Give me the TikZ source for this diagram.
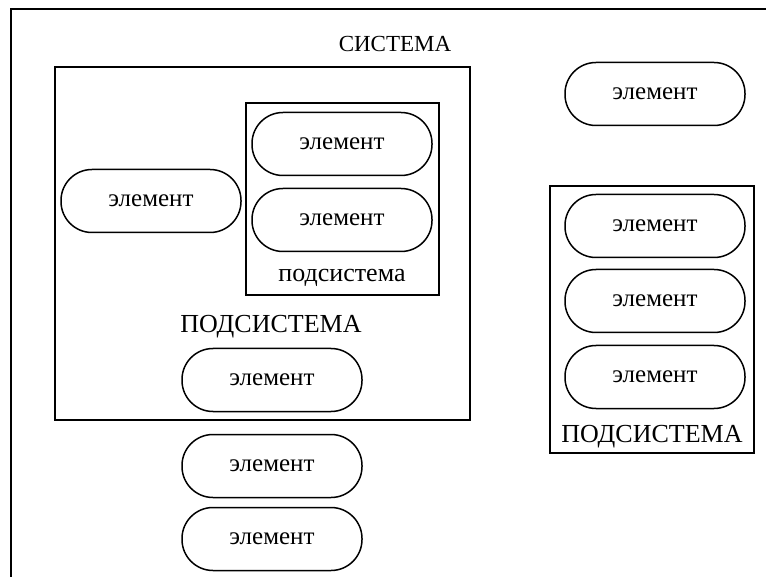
\documentclass[tikz,border=0pt]{standalone}
\usepackage{fontspec}
\setmainfont{Liberation Serif}
\usepackage{tikz}
\usetikzlibrary{positioning}

\begin{document}
\begin{tikzpicture}[x=0.5pt,y=-0.5pt,
  elem/.style={draw,line width=0.75pt,rounded corners=15.5pt,minimum width=90pt,minimum height=31.5pt,inner sep=0pt,font=\fontsize{12.5}{14}\selectfont},
  sysbox/.style={draw,line width=1pt,inner sep=0pt},
  caps/.style={font=\fontsize{13}{15}\selectfont,inner sep=0pt}]
\useasboundingbox (0,0) rectangle (766,577);
% outer frame
\draw[line width=1pt] (11,577) -- (11,9.5) -- (766,9.5);
\node[font=\fontsize{11.5}{13}\selectfont,inner sep=0pt] (sys) at (395,44) {СИСТЕМА};
% big subsystem
\node[sysbox,minimum width=207.5pt,minimum height=176.5pt] (S1) at (262.5,243.5) {};
\node[sysbox,minimum width=96.5pt,minimum height=96pt] (S2) at (342.5,199) {};
\node[elem] (e1) at (342,144) {элемент};
\node[elem] (e2) at (342,220) {элемент};
\node[caps] (t2) at (342,278) {подсистема};
\node[elem] (e3) at (151,201) {элемент};
\node[caps] (t1) at (271,327) {ПОДСИСТЕМА};
\node[elem] (e4) at (272,380) {элемент};
% free elements
\node[elem] (e5) at (272,466) {элемент};
\node[elem] (e6) at (272,539) {элемент};
\node[elem] (e7) at (655,94) {элемент};
% right subsystem
\node[sysbox,minimum width=102pt,minimum height=133.5pt] (S3) at (652,319.5) {};
\node[elem] (e8) at (655,226) {элемент};
\node[elem] (e9) at (655,301) {элемент};
\node[elem] (e10) at (655,377) {элемент};
\node[caps] (t3) at (652,437) {ПОДСИСТЕМА};
\end{tikzpicture}
\end{document}
